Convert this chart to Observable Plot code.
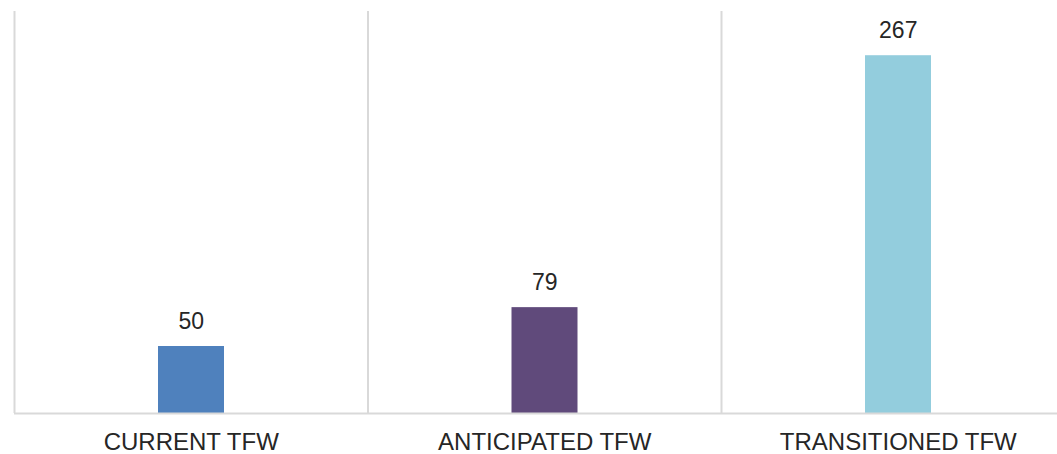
<!DOCTYPE html>
<html>
<head>
<meta charset="utf-8">
<script src="https://cdn.jsdelivr.net/npm/d3@7"></script>
<script src="https://cdn.jsdelivr.net/npm/@observablehq/plot@0.6"></script>
<style>
  html, body { margin: 0; padding: 0; background: #fff; overflow: hidden; }
  #chart svg { display: block; }
</style>
</head>
<body>
<div id="chart"></div>
<script>
const categories = ["CURRENT TFW", "ANTICIPATED TFW", "TRANSITIONED TFW"];
const values = [50, 79, 267];
const colors = ["#4F81BD", "#604A7B", "#93CDDD"];

const data = categories.map((c, i) => ({category: c, value: values[i], color: colors[i], i}));

const chart = Plot.plot({
  width: 1057,
  height: 454,
  marginTop: 11,
  marginBottom: 41,
  marginLeft: 0,
  marginRight: 0,
  style: {fontFamily: "'Liberation Sans', Arial, sans-serif", background: "#fff"},
  x: {type: "linear", domain: [0, categories.length], range: [14, 1074.5], axis: null},
  y: {domain: [0, 300], axis: null},
  marks: [
    Plot.ruleX(data, {x: d => d.i, y1: 0, y2: 300, stroke: "#d9d9d9", strokeWidth: 2}),
    Plot.rectY(data, {x1: d => d.i, x2: d => d.i + 1, y1: 0, y2: "value", fill: "color", insetLeft: 144, insetRight: 143.5}),
    Plot.ruleY([0], {x1: 0, x2: categories.length, stroke: "#d9d9d9", strokeWidth: 2}),
    Plot.text(data, {x: d => d.i + 0.5, y: "value", text: d => String(d.value), dy: -18, lineAnchor: "bottom", fontSize: 23, fill: "#262626"}),
    Plot.text(data, {x: d => d.i + 0.5, y: 0, text: "category", dy: 36, lineAnchor: "bottom", fontSize: 24, fill: "#262626"})
  ]
});
document.getElementById("chart").appendChild(chart);
</script>
</body>
</html>
